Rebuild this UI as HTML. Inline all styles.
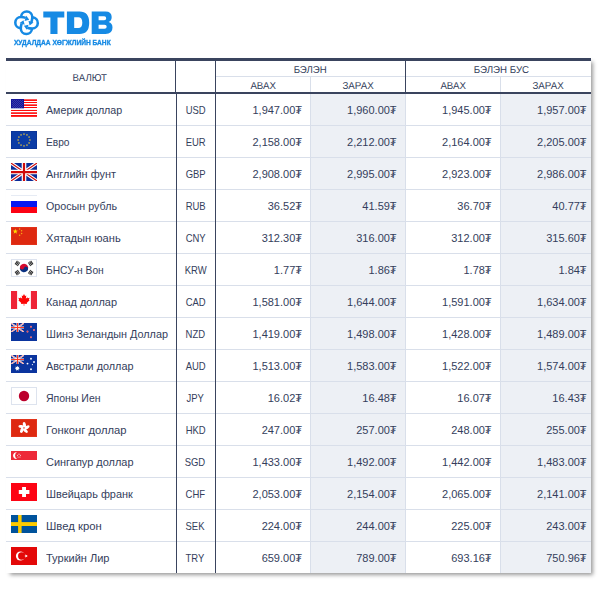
<!DOCTYPE html><html><head><meta charset="utf-8"><title>TDB</title><style>
*{margin:0;padding:0;box-sizing:border-box}
html,body{width:602px;height:590px;background:#fff;overflow:hidden}
body{font-family:"Liberation Sans",sans-serif;color:#343e5c;position:relative}
.a{position:absolute}
#tb{position:absolute;left:6px;top:58px;width:585px;height:515px;background:#fff;box-shadow:3px 3px 4px -1px rgba(0,0,0,.4)}
.d{position:absolute;background:#3a445e}
.l{position:absolute;background:#d9dfea}
.s{position:absolute;background:#edf0f5}
.t{position:absolute;white-space:nowrap;font-size:11px;line-height:12px;height:12px}
.h{position:absolute;white-space:nowrap;font-size:10px;text-rendering:geometricPrecision;line-height:12px;height:12px;text-align:center}
.t span,.h span{display:inline-block}
.n{text-align:right;width:80px}
.c{text-align:center;width:38px;left:170.3px}
.c span{transform:scaleX(.86)}
.f{position:absolute;left:5px;width:26px;height:18px;display:block}
</style></head><body>
<svg class="a" style="left:0;top:0;will-change:transform" width="130" height="56" viewBox="0 0 130 56"><g transform="translate(26.55 22.8)"><g transform="rotate(0)"><path d="M-5.44 -5.99A5.6 5.6 0 0 1 5.75 -5.70A14.5 14.5 0 0 1 4.88 -0.74" fill="none" stroke="#168ae4" stroke-width="2.55"/><polygon points="3.06,2.64 6.96,-0.19 1.89,-2.04" fill="#168ae4"/></g><g transform="rotate(90)"><path d="M-5.44 -5.99A5.6 5.6 0 0 1 5.75 -5.70A14.5 14.5 0 0 1 4.88 -0.74" fill="none" stroke="#168ae4" stroke-width="2.55"/><polygon points="3.06,2.64 6.96,-0.19 1.89,-2.04" fill="#168ae4"/></g><g transform="rotate(180)"><path d="M-5.44 -5.99A5.6 5.6 0 0 1 5.75 -5.70A14.5 14.5 0 0 1 4.88 -0.74" fill="none" stroke="#168ae4" stroke-width="2.55"/><polygon points="3.06,2.64 6.96,-0.19 1.89,-2.04" fill="#168ae4"/></g><g transform="rotate(270)"><path d="M-5.44 -5.99A5.6 5.6 0 0 1 5.75 -5.70A14.5 14.5 0 0 1 4.88 -0.74" fill="none" stroke="#168ae4" stroke-width="2.55"/><polygon points="3.06,2.64 6.96,-0.19 1.89,-2.04" fill="#168ae4"/></g></g><path fill="#168ae4" fill-rule="evenodd" d="M43.3 11.4H64.3V17.4H57.5V34H50.4V17.4H43.3ZM66.9 11.4H79.5Q89.2 11.4 89.2 22.700Q89.2 34 79.5 34H66.9ZM74.2 17.3V28H78.2Q82.3 28 82.3 22.650Q82.3 17.3 78.2 17.3ZM91.7 11.4H105.5Q111.7 11.4 111.7 17.100Q111.7 21 108.600 22.100Q112.5 23.300 112.5 27.500Q112.5 34 105.5 34H91.7ZM98.6 16.3V20.2H104.2Q106.2 20.2 106.2 18.250Q106.2 16.3 104.2 16.3ZM98.6 24.700V28.800H104.5Q106.7 28.800 106.7 26.750Q106.7 24.700 104.5 24.700Z"/><text x="13.9" y="45.1" font-family="Liberation Sans,sans-serif" font-weight="bold" font-size="7.6" fill="#168ae4" stroke="#168ae4" stroke-width=".35" textLength="96.8" lengthAdjust="spacingAndGlyphs">ХУДАЛДАА ХӨГЖЛИЙН БАНК</text></svg>
<div id="tb">
<div class="s" style="left:305px;top:36px;width:94px;height:479px"></div>
<div class="s" style="left:495px;top:36px;width:90px;height:479px"></div>
<div class="l" style="left:0;top:67px;width:585px;height:1px"></div>
<div class="l" style="left:0;top:99px;width:585px;height:1px"></div>
<div class="l" style="left:0;top:131px;width:585px;height:1px"></div>
<div class="l" style="left:0;top:163px;width:585px;height:1px"></div>
<div class="l" style="left:0;top:195px;width:585px;height:1px"></div>
<div class="l" style="left:0;top:227px;width:585px;height:1px"></div>
<div class="l" style="left:0;top:259px;width:585px;height:1px"></div>
<div class="l" style="left:0;top:291px;width:585px;height:1px"></div>
<div class="l" style="left:0;top:323px;width:585px;height:1px"></div>
<div class="l" style="left:0;top:355px;width:585px;height:1px"></div>
<div class="l" style="left:0;top:387px;width:585px;height:1px"></div>
<div class="l" style="left:0;top:419px;width:585px;height:1px"></div>
<div class="l" style="left:0;top:451px;width:585px;height:1px"></div>
<div class="l" style="left:0;top:483px;width:585px;height:1px"></div>
<div class="l" style="left:304px;top:36px;width:1px;height:479px"></div>
<div class="l" style="left:399px;top:36px;width:1px;height:479px"></div>
<div class="l" style="left:494px;top:36px;width:1px;height:479px"></div>
<div class="l" style="left:304px;top:19px;width:1px;height:15px"></div>
<div class="l" style="left:494px;top:19px;width:1px;height:15px"></div>
<div class="l" style="left:210px;top:18px;width:375px;height:1px"></div>
<div class="d" style="left:0;top:0;width:585px;height:3px"></div>
<div class="d" style="left:0;top:34px;width:585px;height:2px"></div>
<div class="d" style="left:169px;top:3px;width:1px;height:31px"></div>
<div class="d" style="left:170px;top:36px;width:1px;height:479px"></div>
<div class="d" style="left:209px;top:3px;width:1px;height:512px"></div>
<div class="d" style="left:399px;top:3px;width:1px;height:31px"></div>
<div class="h" style="left:33.3px;top:15px;width:100px"><span style="transform:scaleX(0.965)">ВАЛЮТ</span></div>
<div class="h" style="left:254.0px;top:7px;width:100px"><span style="transform:scaleX(0.963)">БЭЛЭН</span></div>
<div class="h" style="left:445.2px;top:7px;width:100px"><span style="transform:scaleX(0.971)">БЭЛЭН БУС</span></div>
<div class="h" style="left:207.3px;top:23px;width:100px"><span style="transform:scaleX(0.971)">АВАХ</span></div>
<div class="h" style="left:301.6px;top:23px;width:100px"><span style="transform:scaleX(0.976)">ЗАРАХ</span></div>
<div class="h" style="left:397.0px;top:23px;width:100px"><span style="transform:scaleX(0.971)">АВАХ</span></div>
<div class="h" style="left:492.4px;top:23px;width:100px"><span style="transform:scaleX(0.976)">ЗАРАХ</span></div>
<svg class="f" style="top:41px" viewBox="0 0 26 18"><rect width="26" height="18" fill="#fff"/><rect y="0" width="26" height="1" fill="#ff5a5a"/><rect y="1" width="26" height="1" fill="#ff1212"/><rect y="3" width="26" height="1" fill="#ff0a0a"/><rect y="5" width="26" height="1" fill="#ff6464"/><rect y="6" width="26" height="1" fill="#ff1212"/><rect y="8" width="26" height="1" fill="#ff0a0a"/><rect y="10" width="26" height="1" fill="#fff2f2"/><rect y="11" width="26" height="1" fill="#ff0a0a"/><rect y="13" width="26" height="1" fill="#ff5252"/><rect y="14" width="26" height="1" fill="#ff2020"/><rect y="16" width="26" height="1" fill="#ff0a0a"/><rect y="17" width="26" height="1" fill="#ff2c2c"/><rect width="13" height="9" fill="#15159a"/><rect y="9" width="13" height="1" fill="#a9b2e2"/><g fill="#fff" fill-opacity=".16"><rect x="1" y="1" width="1" height="1"/><rect x="3" y="1" width="1" height="1"/><rect x="5" y="1" width="1" height="1"/><rect x="7" y="1" width="1" height="1"/><rect x="9" y="1" width="1" height="1"/><rect x="11" y="1" width="1" height="1"/><rect x="1" y="3" width="1" height="1"/><rect x="3" y="3" width="1" height="1"/><rect x="5" y="3" width="1" height="1"/><rect x="7" y="3" width="1" height="1"/><rect x="9" y="3" width="1" height="1"/><rect x="11" y="3" width="1" height="1"/><rect x="1" y="5" width="1" height="1"/><rect x="3" y="5" width="1" height="1"/><rect x="5" y="5" width="1" height="1"/><rect x="7" y="5" width="1" height="1"/><rect x="9" y="5" width="1" height="1"/><rect x="11" y="5" width="1" height="1"/><rect x="1" y="7" width="1" height="1"/><rect x="3" y="7" width="1" height="1"/><rect x="5" y="7" width="1" height="1"/><rect x="7" y="7" width="1" height="1"/><rect x="9" y="7" width="1" height="1"/><rect x="11" y="7" width="1" height="1"/><rect x="2" y="2" width="1" height="1"/><rect x="4" y="2" width="1" height="1"/><rect x="6" y="2" width="1" height="1"/><rect x="8" y="2" width="1" height="1"/><rect x="10" y="2" width="1" height="1"/><rect x="2" y="4" width="1" height="1"/><rect x="4" y="4" width="1" height="1"/><rect x="6" y="4" width="1" height="1"/><rect x="8" y="4" width="1" height="1"/><rect x="10" y="4" width="1" height="1"/><rect x="2" y="6" width="1" height="1"/><rect x="4" y="6" width="1" height="1"/><rect x="6" y="6" width="1" height="1"/><rect x="8" y="6" width="1" height="1"/><rect x="10" y="6" width="1" height="1"/><rect x="2" y="8" width="1" height="1"/><rect x="4" y="8" width="1" height="1"/><rect x="6" y="8" width="1" height="1"/><rect x="8" y="8" width="1" height="1"/><rect x="10" y="8" width="1" height="1"/></g></svg>
<div class="t" style="left:39.7px;top:46px"><span style="transform-origin:0 50%;transform:scaleX(0.971)">Америк доллар</span></div>
<div class="t c" style="top:46px"><span>USD</span></div>
<div class="t n" style="left:216.0px;top:46px">1,947.00₮</div>
<div class="t n" style="left:310.6px;top:46px">1,960.00₮</div>
<div class="t n" style="left:405.6px;top:46px">1,945.00₮</div>
<div class="t n" style="left:500.6px;top:46px">1,957.00₮</div>
<svg class="f" style="top:73px" viewBox="0 0 26 18"><rect width="26" height="18" fill="#0b3ca6"/><rect x=".5" y=".5" width="25" height="17" fill="none" stroke="#0a3498" stroke-width="1"/><rect x="18.20" y="8.30" width="1.4" height="1.4" fill="#d8b840"/><rect x="17.41" y="11.25" width="1.4" height="1.4" fill="#d8b840"/><rect x="15.25" y="13.41" width="1.4" height="1.4" fill="#d8b840"/><rect x="12.30" y="14.20" width="1.4" height="1.4" fill="#d8b840"/><rect x="9.35" y="13.41" width="1.4" height="1.4" fill="#d8b840"/><rect x="7.19" y="11.25" width="1.4" height="1.4" fill="#d8b840"/><rect x="6.40" y="8.30" width="1.4" height="1.4" fill="#d8b840"/><rect x="7.19" y="5.35" width="1.4" height="1.4" fill="#d8b840"/><rect x="9.35" y="3.19" width="1.4" height="1.4" fill="#d8b840"/><rect x="12.30" y="2.40" width="1.4" height="1.4" fill="#d8b840"/><rect x="15.25" y="3.19" width="1.4" height="1.4" fill="#d8b840"/><rect x="17.41" y="5.35" width="1.4" height="1.4" fill="#d8b840"/></svg>
<div class="t" style="left:39.7px;top:78px"><span style="transform-origin:0 50%;transform:scaleX(0.924)">Евро</span></div>
<div class="t c" style="top:78px"><span>EUR</span></div>
<div class="t n" style="left:216.0px;top:78px">2,158.00₮</div>
<div class="t n" style="left:310.6px;top:78px">2,212.00₮</div>
<div class="t n" style="left:405.6px;top:78px">2,164.00₮</div>
<div class="t n" style="left:500.6px;top:78px">2,205.00₮</div>
<svg class="f" style="top:105px" viewBox="0 0 26 18"><clipPath id="ukc"><rect width="26" height="18"/></clipPath><g clip-path="url(#ukc)"><rect width="26" height="18" fill="#0c2c98"/><path d="M0 0L26 18M26 0L0 18" stroke="#fff" stroke-width="3.4"/><path d="M0 0L26 18M26 0L0 18" stroke="#cf0a0a" stroke-width="1.1"/><path d="M13 0V18M0 9.05H26" stroke="#fff" stroke-width="4.6"/><path d="M13 0V18M0 9.05H26" stroke="#cf0a0a" stroke-width="2.2"/></g></svg>
<div class="t" style="left:39.7px;top:110px"><span style="transform-origin:0 50%;transform:scaleX(0.992)">Английн фунт</span></div>
<div class="t c" style="top:110px"><span>GBP</span></div>
<div class="t n" style="left:216.0px;top:110px">2,908.00₮</div>
<div class="t n" style="left:310.6px;top:110px">2,995.00₮</div>
<div class="t n" style="left:405.6px;top:110px">2,923.00₮</div>
<div class="t n" style="left:500.6px;top:110px">2,986.00₮</div>
<svg class="f" style="top:137px" viewBox="0 0 26 18"><rect width="26" height="18" fill="#fff"/><rect width="26" height="1" fill="#e6ebf4"/><rect y="6" width="26" height="6" fill="#0518f2"/><rect y="12" width="26" height="6" fill="#fc0214"/></svg>
<div class="t" style="left:39.7px;top:142px"><span style="transform-origin:0 50%;transform:scaleX(0.974)">Оросын рубль</span></div>
<div class="t c" style="top:142px"><span>RUB</span></div>
<div class="t n" style="left:216.0px;top:142px">36.52₮</div>
<div class="t n" style="left:310.6px;top:142px">41.59₮</div>
<div class="t n" style="left:405.6px;top:142px">36.70₮</div>
<div class="t n" style="left:500.6px;top:142px">40.77₮</div>
<svg class="f" style="top:169px" viewBox="0 0 26 18"><rect width="26" height="18" fill="#de2910"/><rect x=".5" y=".5" width="25" height="17" fill="none" stroke="#e2321a" stroke-width="1"/><polygon points="4.30,1.80 4.95,3.61 6.87,3.67 5.35,4.84 5.89,6.68 4.30,5.60 2.71,6.68 3.25,4.84 1.73,3.67 3.65,3.61" fill="#ffe000"/><circle cx="8.6" cy="2" r=".75" fill="#f9a818"/><circle cx="10.6" cy="3.7" r=".75" fill="#f9a818"/><circle cx="10.6" cy="6.5" r=".75" fill="#f9a818"/><circle cx="8.6" cy="8.3" r=".75" fill="#f9a818"/></svg>
<div class="t" style="left:39.7px;top:174px"><span style="transform-origin:0 50%;transform:scaleX(1.010)">Хятадын юань</span></div>
<div class="t c" style="top:174px"><span>CNY</span></div>
<div class="t n" style="left:216.0px;top:174px">312.30₮</div>
<div class="t n" style="left:310.6px;top:174px">316.00₮</div>
<div class="t n" style="left:405.6px;top:174px">312.00₮</div>
<div class="t n" style="left:500.6px;top:174px">315.60₮</div>
<svg class="f" style="top:201px" viewBox="0 0 26 18"><rect width="26" height="18" fill="#fff"/><rect x=".5" y=".5" width="25" height="17" fill="none" stroke="#dde3ef" stroke-width="1"/><g transform="rotate(18 13 9)"><path d="M8.8 9a4.2 4.2 0 0 1 8.4 0z" fill="#d60a2e"/><path d="M8.8 9a4.2 4.2 0 0 0 8.4 0z" fill="#0a3282"/><circle cx="10.9" cy="9" r="2.1" fill="#d60a2e"/><circle cx="15.1" cy="9" r="2.1" fill="#0a3282"/></g><g transform="translate(6.4 4.4) rotate(34)" fill="#2c2c2c"><rect x="-1.92" y="-2.1" width="1.04" height="4.2"/><rect x="-0.52" y="-2.1" width="1.04" height="4.2"/><rect x="0.8799999999999999" y="-2.1" width="1.04" height="4.2"/></g><g transform="translate(19.7 4.4) rotate(-34)" fill="#2c2c2c"><rect x="-1.92" y="-2.1" width="1.04" height="4.2"/><rect x="-0.52" y="-2.1" width="1.04" height="4.2"/><rect x="0.8799999999999999" y="-2.1" width="1.04" height="4.2"/></g><g transform="translate(6.4 13.6) rotate(-34)" fill="#2c2c2c"><rect x="-1.92" y="-2.1" width="1.04" height="4.2"/><rect x="-0.52" y="-2.1" width="1.04" height="4.2"/><rect x="0.8799999999999999" y="-2.1" width="1.04" height="4.2"/></g><g transform="translate(19.7 13.6) rotate(34)" fill="#2c2c2c"><rect x="-1.92" y="-2.1" width="1.04" height="4.2"/><rect x="-0.52" y="-2.1" width="1.04" height="4.2"/><rect x="0.8799999999999999" y="-2.1" width="1.04" height="4.2"/></g></svg>
<div class="t" style="left:39.7px;top:206px"><span style="transform-origin:0 50%;transform:scaleX(0.931)">БНСУ-н Вон</span></div>
<div class="t c" style="top:206px"><span>KRW</span></div>
<div class="t n" style="left:216.0px;top:206px">1.77₮</div>
<div class="t n" style="left:310.6px;top:206px">1.86₮</div>
<div class="t n" style="left:405.6px;top:206px">1.78₮</div>
<div class="t n" style="left:500.6px;top:206px">1.84₮</div>
<svg class="f" style="top:233px" viewBox="0 0 26 18"><rect width="26" height="18" fill="#fff"/><rect width="6.1" height="18" fill="#ee2436"/><rect x="19.9" width="6.1" height="18" fill="#ee2436"/><path fill="#fc0606" d="M13 3l1.1 2 1.2-.5-.5 3.2 1.6-1.5.4 1 1.8-.4-.7 2 .7.5-2.9 2.6.4 1.2-2.8-.4v2h-.6v-2l-2.8.4.4-1.200-2.900-2.600.7-.5-.7-2 1.800.4.4-1 1.600 1.500-.500-3.200 1.200.5z"/></svg>
<div class="t" style="left:39.7px;top:238px"><span style="transform-origin:0 50%;transform:scaleX(0.992)">Канад доллар</span></div>
<div class="t c" style="top:238px"><span>CAD</span></div>
<div class="t n" style="left:216.0px;top:238px">1,581.00₮</div>
<div class="t n" style="left:310.6px;top:238px">1,644.00₮</div>
<div class="t n" style="left:405.6px;top:238px">1,591.00₮</div>
<div class="t n" style="left:500.6px;top:238px">1,634.00₮</div>
<svg class="f" style="top:265px" viewBox="0 0 26 18"><rect width="26" height="18" fill="#0b349e"/><clipPath id="nzc"><rect width="13" height="9.1"/></clipPath><g clip-path="url(#nzc)"><rect width="13" height="9.1" fill="#0c2c98"/><path d="M0 0L13 9.1M13 0L0 9.1" stroke="#fff" stroke-width="1.5"/><path d="M0 0L13 9.1M13 0L0 9.1" stroke="#fb3a24" stroke-width="0.5"/><path d="M6.55 0V9.1M0 4.5H13" stroke="#fff" stroke-width="2.1"/><path d="M6.55 0V9.1M0 4.5H13" stroke="#fb3a24" stroke-width="1.15"/></g><circle cx="20" cy="3.8" r="1.05" fill="#f07a86"/><circle cx="20" cy="3.8" r=".6" fill="#e84a52"/><circle cx="23" cy="7" r="1.05" fill="#f07a86"/><circle cx="23" cy="7" r=".6" fill="#e84a52"/><circle cx="16.5" cy="8.6" r="1.05" fill="#f07a86"/><circle cx="16.5" cy="8.6" r=".6" fill="#e84a52"/><circle cx="20" cy="14.3" r="1.05" fill="#f07a86"/><circle cx="20" cy="14.3" r=".6" fill="#e84a52"/></svg>
<div class="t" style="left:39.7px;top:270px"><span style="transform-origin:0 50%;transform:scaleX(0.984)">Шинэ Зеландын Доллар</span></div>
<div class="t c" style="top:270px"><span>NZD</span></div>
<div class="t n" style="left:216.0px;top:270px">1,419.00₮</div>
<div class="t n" style="left:310.6px;top:270px">1,498.00₮</div>
<div class="t n" style="left:405.6px;top:270px">1,428.00₮</div>
<div class="t n" style="left:500.6px;top:270px">1,489.00₮</div>
<svg class="f" style="top:297px" viewBox="0 0 26 18"><rect width="26" height="18" fill="#0b349e"/><clipPath id="auc"><rect width="13" height="9.1"/></clipPath><g clip-path="url(#auc)"><rect width="13" height="9.1" fill="#0c2c98"/><path d="M0 0L13 9.1M13 0L0 9.1" stroke="#fff" stroke-width="1.5"/><path d="M0 0L13 9.1M13 0L0 9.1" stroke="#fb3a24" stroke-width="0.5"/><path d="M6.55 0V9.1M0 4.5H13" stroke="#fff" stroke-width="2.1"/><path d="M6.55 0V9.1M0 4.5H13" stroke="#fb3a24" stroke-width="1.15"/></g><circle cx="20" cy="3.8" r="0.95" fill="#fff"/><circle cx="23" cy="7" r="0.95" fill="#fff"/><circle cx="16.5" cy="8.6" r="0.95" fill="#fff"/><circle cx="21.4" cy="9.6" r="0.6" fill="#fff"/><circle cx="20" cy="14.3" r="0.95" fill="#fff"/><polygon points="6.30,10.70 6.91,12.04 8.33,11.68 7.66,12.99 8.83,13.88 7.39,14.17 7.43,15.64 6.30,14.70 5.17,15.64 5.21,14.17 3.77,13.88 4.94,12.99 4.27,11.68 5.69,12.04" fill="#fff"/></svg>
<div class="t" style="left:39.7px;top:302px"><span style="transform-origin:0 50%;transform:scaleX(0.985)">Австрали доллар</span></div>
<div class="t c" style="top:302px"><span>AUD</span></div>
<div class="t n" style="left:216.0px;top:302px">1,513.00₮</div>
<div class="t n" style="left:310.6px;top:302px">1,583.00₮</div>
<div class="t n" style="left:405.6px;top:302px">1,522.00₮</div>
<div class="t n" style="left:500.6px;top:302px">1,574.00₮</div>
<svg class="f" style="top:329px" viewBox="0 0 26 18"><rect width="26" height="18" fill="#fff"/><rect x=".5" y=".5" width="25" height="17" fill="none" stroke="#dde3ee" stroke-width="1"/><circle cx="13" cy="9" r="5.2" fill="#bc002d"/></svg>
<div class="t" style="left:39.7px;top:334px"><span style="transform-origin:0 50%;transform:scaleX(0.954)">Японы Иен</span></div>
<div class="t c" style="top:334px"><span>JPY</span></div>
<div class="t n" style="left:216.0px;top:334px">16.02₮</div>
<div class="t n" style="left:310.6px;top:334px">16.48₮</div>
<div class="t n" style="left:405.6px;top:334px">16.07₮</div>
<div class="t n" style="left:500.6px;top:334px">16.43₮</div>
<svg class="f" style="top:361px" viewBox="0 0 26 18"><rect width="26" height="18" fill="#de2910"/><rect x=".5" y=".5" width="25" height="17" fill="none" stroke="#e2341c" stroke-width="1"/><ellipse cx="13" cy="5.85" rx="1.55" ry="2.9" fill="#fff" transform="rotate(8 13 8.9) rotate(-22 13 5.85)"/><ellipse cx="13" cy="5.85" rx="1.55" ry="2.9" fill="#fff" transform="rotate(80 13 8.9) rotate(-22 13 5.85)"/><ellipse cx="13" cy="5.85" rx="1.55" ry="2.9" fill="#fff" transform="rotate(152 13 8.9) rotate(-22 13 5.85)"/><ellipse cx="13" cy="5.85" rx="1.55" ry="2.9" fill="#fff" transform="rotate(224 13 8.9) rotate(-22 13 5.85)"/><ellipse cx="13" cy="5.85" rx="1.55" ry="2.9" fill="#fff" transform="rotate(296 13 8.9) rotate(-22 13 5.85)"/><circle cx="13" cy="8.9" r=".8" fill="#ef8a7c"/></svg>
<div class="t" style="left:39.7px;top:366px"><span style="transform-origin:0 50%;transform:scaleX(1.019)">Гонконг доллар</span></div>
<div class="t c" style="top:366px"><span>HKD</span></div>
<div class="t n" style="left:216.0px;top:366px">247.00₮</div>
<div class="t n" style="left:310.6px;top:366px">257.00₮</div>
<div class="t n" style="left:405.6px;top:366px">248.00₮</div>
<div class="t n" style="left:500.6px;top:366px">255.00₮</div>
<svg class="f" style="top:393px" viewBox="0 0 26 18"><rect width="26" height="18" fill="#fff"/><rect width="26" height="9" fill="#ed2939"/><path fill="#fff" d="M5.900 1.350a3.300 3.300 0 1 0 0 6.500a3.800 3.800 0 0 1 0-6.500z"/><circle cx="8.00" cy="3.15" r=".55" fill="#fff" fill-opacity=".9"/><circle cx="9.47" cy="4.22" r=".55" fill="#fff" fill-opacity=".9"/><circle cx="8.91" cy="5.95" r=".55" fill="#fff" fill-opacity=".9"/><circle cx="7.09" cy="5.95" r=".55" fill="#fff" fill-opacity=".9"/><circle cx="6.53" cy="4.22" r=".55" fill="#fff" fill-opacity=".9"/></svg>
<div class="t" style="left:39.7px;top:398px"><span style="transform-origin:0 50%;transform:scaleX(0.995)">Сингапур доллар</span></div>
<div class="t c" style="top:398px"><span>SGD</span></div>
<div class="t n" style="left:216.0px;top:398px">1,433.00₮</div>
<div class="t n" style="left:310.6px;top:398px">1,492.00₮</div>
<div class="t n" style="left:405.6px;top:398px">1,442.00₮</div>
<div class="t n" style="left:500.6px;top:398px">1,483.00₮</div>
<svg class="f" style="top:425px" viewBox="0 0 26 18"><rect width="26" height="18" fill="#fd0414"/><path fill="#fff" d="M11.100 4h3.900v3.100h3.400v3.900h-3.400v3.100h-3.900v-3.100h-3.300v-3.900h3.300z"/></svg>
<div class="t" style="left:39.7px;top:430px"><span style="transform-origin:0 50%;transform:scaleX(0.991)">Швейцарь франк</span></div>
<div class="t c" style="top:430px"><span>CHF</span></div>
<div class="t n" style="left:216.0px;top:430px">2,053.00₮</div>
<div class="t n" style="left:310.6px;top:430px">2,154.00₮</div>
<div class="t n" style="left:405.6px;top:430px">2,065.00₮</div>
<div class="t n" style="left:500.6px;top:430px">2,141.00₮</div>
<svg class="f" style="top:457px" viewBox="0 0 26 18"><rect width="26" height="18" fill="#00539c"/><rect x="7.100" width="3.500" height="18" fill="#fecb00"/><rect y="7.100" width="26" height="3.900" fill="#fecb00"/></svg>
<div class="t" style="left:39.7px;top:462px"><span style="transform-origin:0 50%;transform:scaleX(1.026)">Швед крон</span></div>
<div class="t c" style="top:462px"><span>SEK</span></div>
<div class="t n" style="left:216.0px;top:462px">224.00₮</div>
<div class="t n" style="left:310.6px;top:462px">244.00₮</div>
<div class="t n" style="left:405.6px;top:462px">225.00₮</div>
<div class="t n" style="left:500.6px;top:462px">243.00₮</div>
<svg class="f" style="top:489px" viewBox="0 0 26 18"><rect width="26" height="18" fill="#e30808"/><circle cx="9.400" cy="9" r="4.500" fill="#fff"/><circle cx="10.700" cy="9" r="3.650" fill="#e30808"/><polygon points="14.54,7.29 15.32,8.33 16.56,7.94 15.80,9.00 16.56,10.06 15.32,9.67 14.54,10.71 14.53,9.41 13.30,9.00 14.53,8.59" fill="#fff"/></svg>
<div class="t" style="left:39.7px;top:494px"><span style="transform-origin:0 50%;transform:scaleX(1.003)">Туркийн Лир</span></div>
<div class="t c" style="top:494px"><span>TRY</span></div>
<div class="t n" style="left:216.0px;top:494px">659.00₮</div>
<div class="t n" style="left:310.6px;top:494px">789.00₮</div>
<div class="t n" style="left:405.6px;top:494px">693.16₮</div>
<div class="t n" style="left:500.6px;top:494px">750.96₮</div>
</div></body></html>
